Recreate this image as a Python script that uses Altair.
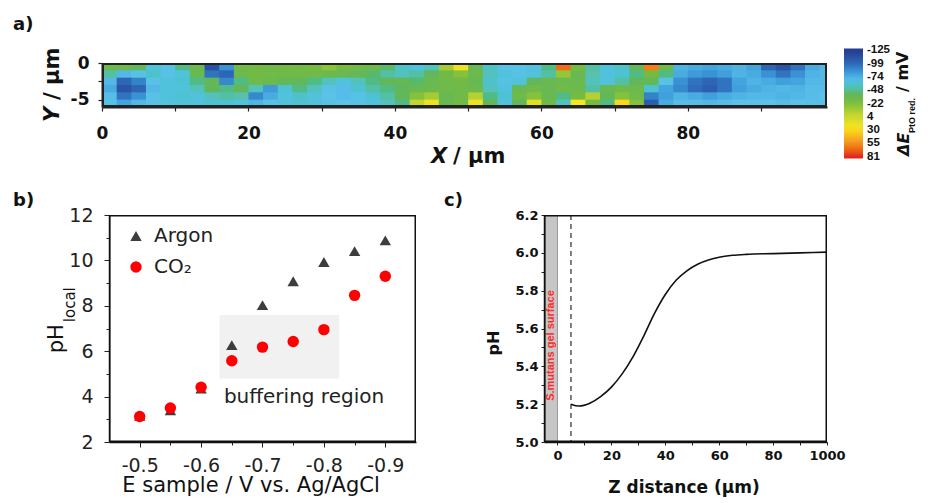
import altair as alt
import pandas as pd

# ---------------- (a) SECM map of dE(PtO red.) ----------------
x_cols_um = list(range(0, 100, 2))          # left edge of each 2 µm column
y_rows_um = [0, -1, -2, -3, -4, -5]          # top edge of each 1 µm row
dE_row0 = [-32, -32, -40, -62, -65, -45, -32, -112, -85, -30, -28, -30, -28, -28, -25, -18, -25, -30, -32, -42,
           -58, -62, -55, -10, 20, -35, -58, -65, -65, -63, -45, 65, -25, -50, -62, -58, -40, 60, -30, -72,
           -75, -78, -75, -72, -78, -100, -110, -95, -75, -70]
dE_row1 = [-50, -70, -65, -58, -65, -62, -35, -95, -100, -32, -28, -30, -30, -28, -30, -32, -35, -38, -42, -50,
           -55, -50, -40, -28, -20, -32, -55, -62, -65, -62, -50, -15, -35, -52, -62, -60, -45, -25, -45, -75,
           -82, -85, -80, -72, -75, -85, -95, -85, -72, -70]
dE_row2 = [-70, -100, -90, -65, -62, -60, -45, -40, -88, -45, -30, -32, -38, -40, -45, -55, -62, -55, -45, -40,
           -38, -42, -35, -30, -28, -35, -58, -64, -62, -40, -35, -32, -33, -55, -62, -50, -40, -38, -65, -85,
           -95, -100, -95, -78, -72, -75, -80, -78, -70, -70]
dE_row3 = [-75, -110, -100, -70, -62, -62, -55, -40, -45, -40, -55, -82, -60, -45, -55, -65, -68, -60, -50, -45,
           -40, -35, -32, -30, -30, -32, -55, -62, -35, -30, -35, -30, -32, -50, -35, -30, -32, -60, -78, -88,
           -98, -105, -95, -80, -75, -72, -70, -72, -68, -68]
dE_row4 = [-68, -95, -85, -65, -62, -60, -62, -55, -50, -52, -88, -75, -62, -58, -62, -66, -68, -65, -60, -50,
           -40, -20, -10, -35, -30, -5, -45, -60, -30, -20, -35, -45, -25, -5, -40, -20, -30, -90, -80, -72,
           -75, -80, -75, -72, -70, -70, -72, -70, -68, -66]
dE_row5 = [-65, -78, -70, -65, -63, -62, -62, -60, -60, -62, -72, -65, -62, -60, -62, -65, -66, -65, -62, -55,
           -45, 0, 20, -35, -28, 20, -40, -62, -40, 15, -30, -55, 25, -25, -45, 30, -20, -105, -75, -68,
           -68, -70, -68, -66, -66, -66, -68, -66, -65, -65]
dE_rows = [dE_row0, dE_row1, dE_row2, dE_row3, dE_row4, dE_row5]
heat_xlim = [0, 99]
heat_ylim = [-6, 0]
cbar_ticks = [-125, -99, -74, -48, -22, 4, 30, 55, 81]
# colour stops from the bottom of the colour bar (red) to its top (dark blue)
cmap_stops = [84, 81, 50, 25, 0, -25, -40, -52, -66, -82, -100, -125, -128]
cmap_colors = ["#e2231c", "#e2231c", "#f59e24", "#f7e620", "#c5d52f", "#76bb40", "#62b75a",
               "#5bbfae", "#5cc2ea", "#3f9ad8", "#2e66b5", "#243c8f", "#243c8f"]

# ---------------- (b) local pH vs. sample potential ----------------
e_sample = [-0.5, -0.55, -0.6, -0.65, -0.7, -0.75, -0.8, -0.85, -0.9]
ph_argon = [3.15, 3.4, 4.35, 6.27, 8.03, 9.08, 9.93, 10.41, 10.88]
ph_co2 = [3.12, 3.5, 4.41, 5.58, 6.18, 6.43, 6.95, 8.46, 9.3]
gases = ["Argon", "CO₂"]
b_xlim = [-0.45, -0.95]
b_ylim = [2, 12]
buffer_e = [-0.63, -0.825]
buffer_ph = [4.8, 7.6]
buffer_label_at = [-0.7676, 4.0]

# ---------------- (c) pH profile above S. mutans gel ----------------
z_um = [5, 8, 12, 16, 20, 24, 28, 32, 36, 40, 44, 48, 52, 56, 60, 65, 70, 80, 90, 100]
ph_z = [5.2, 5.19, 5.205, 5.24, 5.29, 5.36, 5.45, 5.56, 5.68, 5.78, 5.855, 5.905, 5.94, 5.962,
        5.977, 5.987, 5.992, 5.996, 6.0, 6.004]
c_xlim = [-5, 100]
c_ylim = [5.0, 6.2]
gel_z = [-5, 0]
surface_z = [5]
gel_label_at = [-2.5, 5.51]

one = pd.DataFrame({"k": [0]})


def note(txt, x, y, size, weight="normal", style="normal", font="DejaVu Sans",
         angle=0, align="left", baseline="alphabetic", color="#111"):
    return alt.Chart(one).mark_text(
        text=txt, font=font, fontSize=size, fontWeight=weight, fontStyle=style,
        angle=angle, align=align, baseline=baseline, color=color
    ).encode(x=alt.value(x), y=alt.value(y))


def box(w, h, width=1.5, color="#111"):
    """All four edges of the plot box, drawn just inside the plot area."""
    inset = width / 2
    rule = dict(color=color, strokeWidth=width)
    return [
        alt.Chart(one).mark_rule(**rule).encode(x=alt.value(0), x2=alt.value(w), y=alt.value(inset)),
        alt.Chart(one).mark_rule(**rule).encode(x=alt.value(0), x2=alt.value(w), y=alt.value(h - inset)),
        alt.Chart(one).mark_rule(**rule).encode(x=alt.value(inset), y=alt.value(0), y2=alt.value(h)),
        alt.Chart(one).mark_rule(**rule).encode(x=alt.value(w - inset), y=alt.value(0), y2=alt.value(h)),
    ]


# ================= panel a =================
# cells overlap their neighbours by a hair so that no anti-aliasing seams show
cells = [{"x0": x, "x1": x + 2.12, "y0": y, "y1": y - 1.12, "dE": v}
         for y, row in zip(y_rows_um, dE_rows) for x, v in zip(x_cols_um, row)]
heat_df = pd.DataFrame(cells)

bold_a = dict(labelFont="DejaVu Sans", labelFontWeight="bold", labelFontSize=17,
              labelColor="#111", tickColor="#222", tickWidth=1.2, grid=False,
              domain=True, domainColor="#222", domainWidth=2, title=None, labelFlush=False,
              zindex=1)
heat_x_axis = alt.Axis(values=list(range(0, 100, 10)),
                       labelExpr="datum.value % 20 === 0 ? datum.label : ''",
                       tickSize=4, labelPadding=14, **bold_a)
heat_y_axis = alt.Axis(values=[0, -2.5, -5],
                       labelExpr="datum.value === 0 ? '0' : (datum.value === -5 ? '-5' : '')",
                       tickSize=4, labelPadding=9, **bold_a)
hx = alt.Scale(domain=heat_xlim, nice=False, zero=False)
hy = alt.Scale(domain=heat_ylim, nice=False, zero=False)
# colour bar runs top->bottom from -125 to +81 mV, so the colour field is the negated dE
cscale = alt.Scale(domain=[-s for s in cmap_stops], range=cmap_colors, clamp=True)

heat = alt.Chart(heat_df).transform_calculate(negdE="-datum.dE").mark_rect(clip=True).encode(
    x=alt.X("x0:Q", scale=hx, axis=heat_x_axis),
    x2="x1:Q",
    y=alt.Y("y0:Q", scale=hy, axis=heat_y_axis),
    y2="y1:Q",
    color=alt.Color("negdE:Q", scale=cscale, legend=alt.Legend(
        type="gradient", orient="none", legendX=742, legendY=-14.5, direction="vertical",
        gradientLength=110, gradientThickness=19, values=[-t for t in cbar_ticks],
        labelExpr="datum.value > 0 ? '-' + format(datum.value, 'd') : format(-datum.value, 'd')",
        labelFont="'Liberation Sans Narrow', 'Liberation Sans'", labelFontWeight="bold",
        labelFontSize=11.5, labelColor="#111", labelOverlap=False, labelOffset=4,
        title=None, padding=0, gradientStrokeWidth=0)),
)

panel_a = alt.layer(
    heat,
    *box(725, 44, width=2, color="#222"),
    note("a)", -89, -33, 18, weight="bold"),
    note("X", 329, 100, 21, weight="bold", style="italic"),
    note("/ μm", 351, 100, 21, weight="bold"),
    note("Y", -42.7, 59, 21, weight="bold", style="italic", angle=270),
    note("/ μm", -42.7, 37, 21, weight="bold", angle=270),
    note("ΔE", 807.4, 93, 16, weight="bold", style="italic", angle=270),
    note("PtO red.", 813, 70, 9, weight="bold", font="Liberation Sans", angle=270),
    note("/ mV", 805.7, 29, 16, weight="bold", angle=270),
).properties(width=725, height=44)

# ================= panel b =================
b_df = pd.DataFrame({"E": e_sample * 2, "pH": ph_argon + ph_co2,
                     "gas": [gases[0]] * len(e_sample) + [gases[1]] * len(e_sample)})
xb_scale = alt.Scale(domain=b_xlim, nice=False, zero=False)
yb_scale = alt.Scale(domain=b_ylim, nice=False, zero=False)
font_b = dict(labelFont="DejaVu Sans", labelFontSize=19, labelColor="#222", tickColor="#222",
              grid=False, domain=True, domainColor="#111", domainWidth=1.5, title=None,
              labelFlush=False, zindex=1)
major_b = "abs(round(datum.value * 100)) % 10 === 0"
xb_axis = alt.Axis(values=e_sample,
                   labelExpr=f"{major_b} ? '-' + format(abs(datum.value), '.1f') : ''",
                   tickSize={"condition": {"test": major_b, "value": 5}, "value": 3},
                   labelPadding=9, **font_b)
yb_axis = alt.Axis(values=list(range(2, 13)),
                   labelExpr="datum.value % 2 === 0 ? datum.label : ''",
                   tickSize={"condition": {"test": "datum.value % 2 === 0", "value": 5}, "value": 3},
                   labelPadding=11, **font_b)

buf_df = pd.DataFrame({"e0": [buffer_e[0]], "e1": [buffer_e[1]], "p0": [buffer_ph[0]], "p1": [buffer_ph[1]]})
buffer_rect = alt.Chart(buf_df).mark_rect(color="#f1f1f1").encode(
    x=alt.X("e0:Q", scale=xb_scale, axis=xb_axis), x2="e1:Q",
    y=alt.Y("p0:Q", scale=yb_scale, axis=yb_axis), y2="p1:Q")
buf_lab_df = pd.DataFrame({"E": [buffer_label_at[0]], "pH": [buffer_label_at[1]], "t": ["buffering region"]})
buffer_text = alt.Chart(buf_lab_df).mark_text(font="DejaVu Sans", fontSize=20, color="#222").encode(
    x=alt.X("E:Q", scale=xb_scale, axis=xb_axis),
    y=alt.Y("pH:Q", scale=yb_scale, axis=yb_axis), text="t:N")

leg_b = alt.Legend(orient="none", legendX=17, legendY=11, title=None, labelFont="DejaVu Sans",
                   labelFontSize=20, labelColor="#222", symbolSize=130, rowPadding=11,
                   labelOffset=8, padding=0, symbolStrokeWidth=0)
points = alt.Chart(b_df).mark_point(filled=True, size=130, opacity=1).encode(
    x=alt.X("E:Q", scale=xb_scale, axis=xb_axis),
    y=alt.Y("pH:Q", scale=yb_scale, axis=yb_axis),
    color=alt.Color("gas:N", scale=alt.Scale(domain=gases, range=["#3d3d3d", "#ff0000"]), legend=leg_b),
    shape=alt.Shape("gas:N", scale=alt.Scale(domain=gases, range=["triangle-up", "circle"]), legend=leg_b),
)

panel_b = alt.layer(
    buffer_rect, buffer_text, points,
    *box(307, 227, width=1.5),
    note("b)", -96, -9, 18, weight="bold"),
    note("pH", -45.7, 123.7, 21, angle=270, align="center"),
    note("local", -33.6, 89.7, 15, angle=270, align="center"),
    note("E sample / V vs. Ag/AgCl", 142, 277.4, 21, align="center"),
).properties(width=307, height=227)

# ================= panel c =================
xc_scale = alt.Scale(domain=c_xlim, nice=False, zero=False)
yc_scale = alt.Scale(domain=c_ylim, nice=False, zero=False)
font_c = dict(labelFont="DejaVu Sans", labelFontWeight="bold", labelFontSize=13, labelColor="#111",
              tickColor="#222", grid=False, domain=True, domainColor="#111", domainWidth=1.5,
              title=None, labelFlush=False, zindex=1)
xc_axis = alt.Axis(values=list(range(0, 101, 10)),
                   labelExpr="datum.value === 100 ? '1000' : (datum.value % 20 === 0 ? datum.label : '')",
                   tickSize=3, labelPadding=4, **font_c)
yc_axis = alt.Axis(values=[5.0, 5.1, 5.2, 5.3, 5.4, 5.5, 5.6, 5.7, 5.8, 5.9, 6.0, 6.1, 6.2],
                   labelExpr="round(datum.value * 10) % 2 === 0 ? format(datum.value, '.1f') : ''",
                   tickSize=3, labelPadding=3, **font_c)

gel = alt.Chart(pd.DataFrame({"z0": [gel_z[0]], "z1": [gel_z[1]]})).mark_rect(
    color="#c6c6c6").encode(
    x=alt.X("z0:Q", scale=xc_scale, axis=xc_axis), x2="z1:Q")
gel_edge = alt.Chart(pd.DataFrame({"z": [gel_z[1]]})).mark_rule(
    color="#9a9a9a", strokeWidth=1).encode(x=alt.X("z:Q", scale=xc_scale, axis=xc_axis))
gel_text = alt.Chart(pd.DataFrame({"z": [gel_label_at[0]], "pH": [gel_label_at[1]],
                                   "t": ["S.mutans gel surface"]})).mark_text(
    font="Liberation Sans", fontWeight="bold", fontSize=11, color="#ff2a2a", angle=270).encode(
    x=alt.X("z:Q", scale=xc_scale, axis=xc_axis),
    y=alt.Y("pH:Q", scale=yc_scale, axis=yc_axis), text="t:N")
surface = alt.Chart(pd.DataFrame({"z": surface_z})).mark_rule(
    strokeDash=[5, 4], color="#555", strokeWidth=1.5).encode(
    x=alt.X("z:Q", scale=xc_scale, axis=xc_axis))
curve = alt.Chart(pd.DataFrame({"z": z_um, "pH": ph_z})).mark_line(
    color="#111", strokeWidth=1.6, interpolate="monotone").encode(
    x=alt.X("z:Q", scale=xc_scale, axis=xc_axis),
    y=alt.Y("pH:Q", scale=yc_scale, axis=yc_axis))

panel_c = alt.layer(
    gel, gel_edge, gel_text, surface, curve,
    *box(283, 227, width=1.5),
    note("c)", -100, -9, 18, weight="bold"),
    note("pH", -44.6, 128, 16, weight="bold", angle=270, align="center"),
    note("Z distance (μm)", 140, 277.7, 17, weight="bold", align="center"),
).properties(width=283, height=227)

spacer = alt.Chart(one).mark_point(opacity=0).encode(
    x=alt.value(0), y=alt.value(0)).properties(width=1, height=1)

indep = dict(color="independent", shape="independent")
bottom_inner = alt.hconcat(panel_b, panel_c, spacing=128, bounds="flush").resolve_scale(
    **indep).resolve_legend(**indep)
bottom = alt.hconcat(spacer, bottom_inner, spacing=6, bounds="flush").resolve_scale(
    **indep).resolve_legend(**indep)
chart = alt.vconcat(panel_a, bottom, spacing=108, bounds="flush").resolve_scale(
    **indep).resolve_legend(**indep).properties(
    padding={"left": 4, "top": 7, "right": 0, "bottom": 0}
).configure_view(stroke="transparent")

chart.save("out.html", embed_options={"renderer": "svg", "actions": False})
